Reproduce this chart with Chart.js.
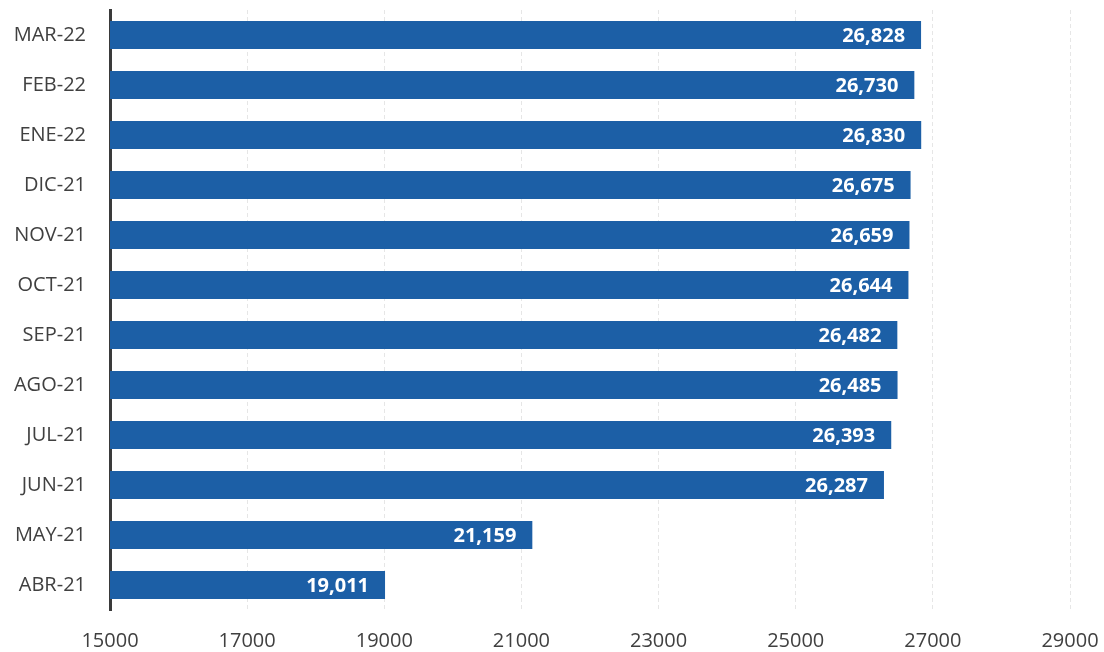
<!DOCTYPE html>
<html><head><meta charset="utf-8">
<script src="https://cdn.jsdelivr.net/npm/chart.js@4"></script>
<style>html,body{margin:0;padding:0;background:#fff}#wrap{width:1104px;height:652px;position:relative}</style>
</head><body><div id="wrap"><canvas id="c"></canvas></div>
<script>
const categories = ["MAR-22","FEB-22","ENE-22","DIC-21","NOV-21","OCT-21","SEP-21","AGO-21","JUL-21","JUN-21","MAY-21","ABR-21"];
const values = [26828,26730,26830,26675,26659,26644,26482,26485,26393,26287,21159,19011];
const xTicks = [15000,17000,19000,21000,23000,25000,27000,29000];

const FONT = '"Open Sans", sans-serif';
const fmt = v => v.toLocaleString('en-US');
const labelPlugin = {
  id:'barLabels',
  afterDatasetsDraw(chart){
    const ctx = chart.ctx;
    const meta = chart.getDatasetMeta(0);
    ctx.save();
    ctx.font = 'bold 20px ' + FONT;
    ctx.fillStyle = '#ffffff';
    ctx.textAlign = 'right';
    ctx.textBaseline = 'middle';
    meta.data.forEach((bar,i)=>{
      ctx.fillText(fmt(values[i]), bar.x - 16, bar.y + 1);
    });
    ctx.restore();
  }
};

new Chart(document.getElementById('c'), {
  type:'bar',
  data:{labels:categories, datasets:[{data:values, backgroundColor:'#1c5fa6', barPercentage:0.56, categoryPercentage:1.0}]},
  options:{
    indexAxis:'y', responsive:true, maintainAspectRatio:false, animation:false,
    layout:{padding:{top:0,right:0,left:0,bottom:0}},
    plugins:{legend:{display:false}, tooltip:{enabled:false}},
    scales:{
      x:{min:15000,max:29000, afterBuildTicks(s){s.ticks = xTicks.map(v=>({value:v}));},
        grid:{color:'#e6e6e6', lineWidth:1, drawTicks:false},
        border:{display:false, dash:[4,3]},
        ticks:{color:'#404040', font:{size:20, family:FONT}, padding:19, maxRotation:0, callback:v=>String(v)},
        afterFit(s){s.height = 42; s.paddingLeft = 0; s.paddingRight = 34;}
      },
      y:{grid:{display:false, drawTicks:false},
        border:{display:true, color:'#3a3a3a', width:3},
        ticks:{color:'#404040', font:{size:20, family:FONT}, padding:24},
        afterFit(s){s.width = 110; s.paddingTop = 10; s.paddingBottom = 0;}
      }
    }
  },
  plugins:[labelPlugin]
});
</script></body></html>
